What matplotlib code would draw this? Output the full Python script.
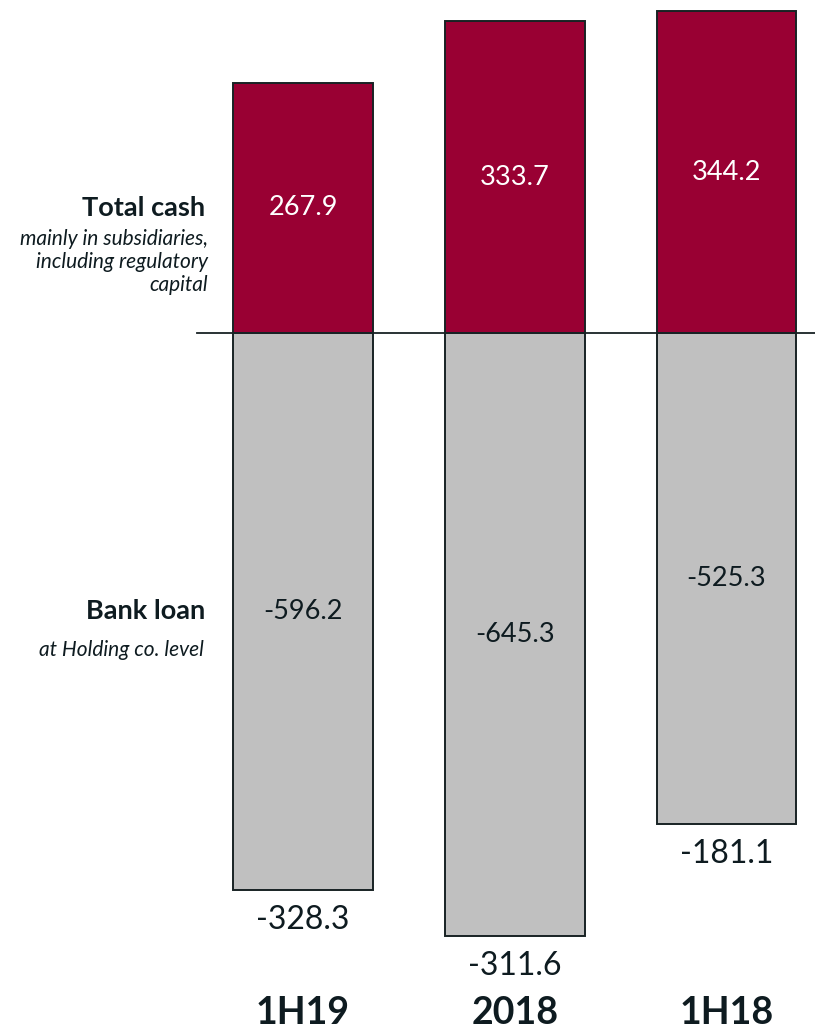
import numpy as np
import matplotlib
matplotlib.use("Agg")
import matplotlib.pyplot as plt

plt.rcParams['font.family'] = ['Lato', 'DejaVu Sans']

# values in EUR m per period
periods = ['1H19', '2018', '1H18']
total_cash = [267.9, 333.7, 344.2]
bank_loan = [-596.2, -645.3, -525.3]
net_position = [-328.3, -311.6, -181.1]

crimson = '#990033'
grey = '#c0c0c0'
ink = '#0e1b20'
edge = '#182224'

fig = plt.figure(figsize=(8.15, 10.31), dpi=100)
ax = fig.add_axes([0, 0, 1, 1])
ax.set_xlim(-1.431, 2.418)
ax.set_ylim(-747.3, 356.5)
ax.axis('off')

x = np.arange(len(periods))
w = 0.661

ax.bar(x, total_cash, width=w, color=crimson, edgecolor=edge, linewidth=1.4, zorder=2)
ax.bar(x, bank_loan, width=w, color=grey, edgecolor=edge, linewidth=1.4, zorder=2)
ax.plot([-0.5, 2.418], [0, 0], color=edge, linewidth=1.3, zorder=3)

for xi, c, l, n in zip(x, total_cash, bank_loan, net_position):
    ax.text(xi, c / 2, f'{c:.1f}', ha='center', va='center', fontsize=19.5, color='white')
    ax.text(xi, l / 2, f'{l:.1f}', ha='center', va='center', fontsize=19.5, color=ink)
    ax.annotate(f'{n:.1f}', (xi, l), xytext=(0, -22), textcoords='offset points',
                ha='center', va='center', fontsize=23, color=ink)

# period labels along the bottom
for xi, p in zip(x, periods):
    ax.text(xi, 0.017, p, transform=ax.get_xaxis_transform(), ha='center', va='center',
            fontsize=27, fontweight='bold', color=ink)

# row captions on the left
left = -0.463
ax.text(left, total_cash[0] / 2, 'Total cash', ha='right', va='center',
        fontsize=19.5, fontweight='bold', color=ink)
ax.annotate('mainly in subsidiaries,\nincluding regulatory\ncapital', (left, total_cash[0] / 2),
            xytext=(2, -15), textcoords='offset points', ha='right', va='top',
            fontsize=15, fontstyle='italic', color=ink, linespacing=1.2)
ax.text(left, bank_loan[0] / 2, 'Bank loan', ha='right', va='center',
        fontsize=19.5, fontweight='bold', color=ink)
ax.annotate('at Holding co. level', (left, bank_loan[0] / 2),
            xytext=(-1, -28), textcoords='offset points', ha='right', va='center',
            fontsize=15, fontstyle='italic', color=ink)

fig.savefig('out.png', dpi=100)
